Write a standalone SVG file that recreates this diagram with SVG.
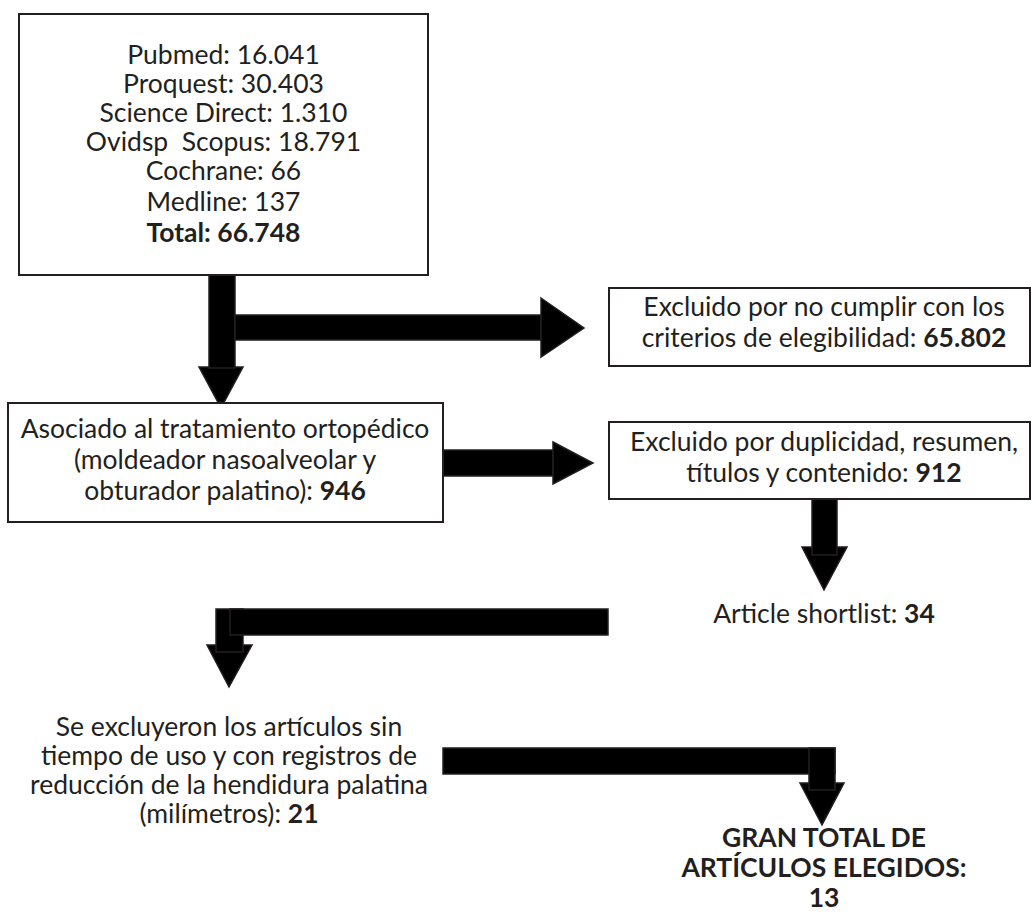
<svg xmlns="http://www.w3.org/2000/svg" width="1031" height="913" viewBox="0 0 1031 913">
<style>
.box{fill:#fff;stroke:#231f20;stroke-width:2}
.t{font-family:Lato,"Noto Sans","Liberation Sans",sans-serif;font-size:26.5px;fill:#231f20;text-anchor:middle;white-space:pre}
.b{font-weight:bold}
.ar{fill:#000;stroke:#231f20;stroke-width:1.5;stroke-linejoin:miter}
</style>
<rect width="1031" height="913" fill="#fff"/>
<g id="connectors">
  <polygon class="ar" points="199,367 243,367 221,408"/>
  <rect class="ar" x="209" y="275" width="26" height="93"/>
  <rect class="ar" x="235" y="315" width="306" height="25"/>
  <polygon class="ar" points="541,298 584,328 541,357"/>
  <rect class="ar" x="443" y="450" width="110" height="26"/>
  <polygon class="ar" points="553,442 593,463 553,484"/>
  <polygon class="ar" points="802,547 847,547 824,590"/>
  <rect class="ar" x="812" y="499" width="25" height="56"/>
  <polygon class="ar" points="207,645 252,645 229,687"/>
  <rect class="ar" x="216" y="609" width="27" height="43"/>
  <rect class="ar" x="230" y="609" width="378" height="26"/>
  <polygon class="ar" points="800,783 844,783 822,825"/>
  <rect class="ar" x="443" y="748" width="392" height="26"/>
  <rect class="ar" x="809" y="748" width="26" height="42"/>
</g>
<g id="n-sources">
  <rect class="box" x="19" y="14" width="409" height="261"/>
  <text class="t" x="223.5" y="64">Pubmed: 16.041</text>
  <text class="t" x="223.5" y="93">Proquest: 30.403</text>
  <text class="t" x="223.5" y="122">Science Direct: 1.310</text>
  <text class="t" x="223.5" y="151">Ovidsp  Scopus: 18.791</text>
  <text class="t" x="223.5" y="180">Cochrane: 66</text>
  <text class="t" x="223.5" y="211">Medline: 137</text>
  <text class="t b" x="223.5" y="242">Total: 66.748</text>
</g>
<g id="n-excl1">
  <rect class="box" x="609" y="288" width="421" height="78"/>
  <text class="t" x="824" y="316">Excluido por no cumplir con los</text>
  <text class="t" x="824" y="347">criterios de elegibilidad: <tspan class="b">65.802</tspan></text>
</g>
<g id="n-assoc">
  <rect class="box" x="8" y="403" width="435" height="119"/>
  <text class="t" x="225" y="438">Asociado al tratamiento ortopédico</text>
  <text class="t" x="225" y="469">(moldeador nasoalveolar y</text>
  <text class="t" x="225" y="500">obturador palatino): <tspan class="b">946</tspan></text>
</g>
<g id="n-excl2">
  <rect class="box" x="609" y="422" width="421" height="77"/>
  <text class="t" x="824" y="451">Excluido por duplicidad, resumen,</text>
  <text class="t" x="824" y="482">títulos y contenido: <tspan class="b">912</tspan></text>
</g>
<g id="n-shortlist">
  <text class="t" x="824" y="623">Article shortlist: <tspan class="b">34</tspan></text>
</g>
<g id="n-excl3">
  <text class="t" x="229" y="736">Se excluyeron los artículos sin</text>
  <text class="t" x="229" y="765">tiempo de uso y con registros de</text>
  <text class="t" x="229" y="794">reducción de la hendidura palatina</text>
  <text class="t" x="229" y="823">(milímetros): <tspan class="b">21</tspan></text>
</g>
<g id="n-total">
  <text class="t b" x="824" y="847">GRAN TOTAL DE</text>
  <text class="t b" x="824" y="877">ARTÍCULOS ELEGIDOS:</text>
  <text class="t b" x="824" y="907">13</text>
</g>
</svg>
